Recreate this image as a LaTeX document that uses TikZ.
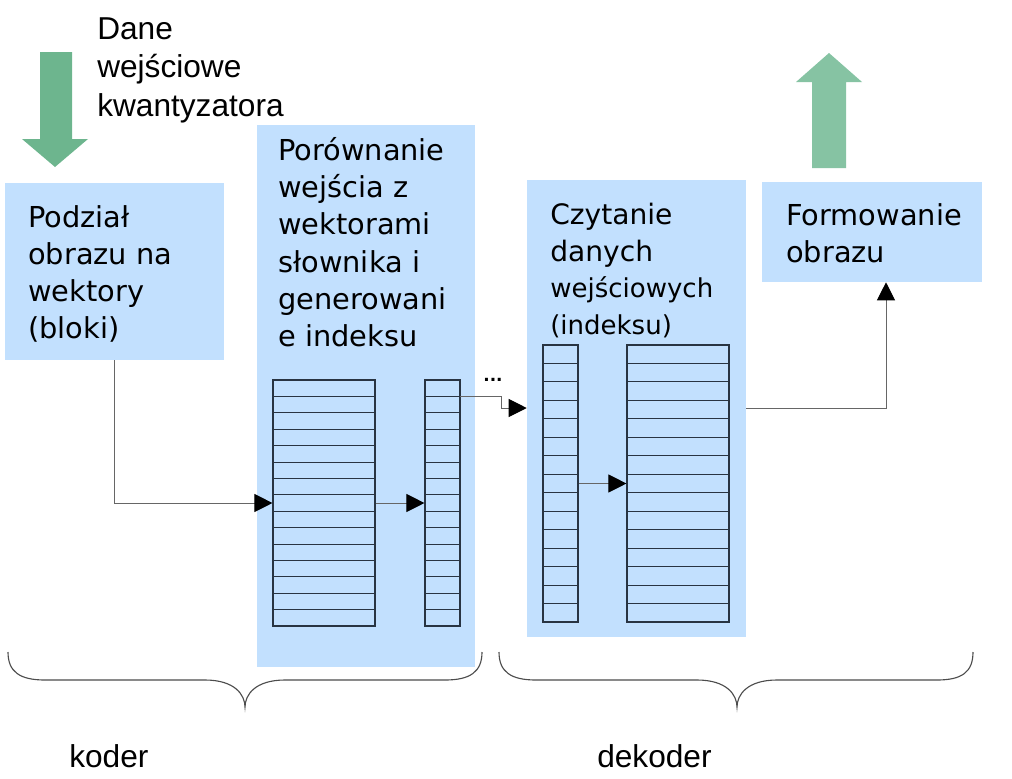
\documentclass[tikz,border=0pt]{standalone}
\usepackage{fontspec}
\setmainfont{DejaVu Sans}
\newfontfamily\arialfont{Liberation Sans}
\usetikzlibrary{arrows.meta,fit}
\definecolor{blok}{RGB}{194,224,254}
\definecolor{zielen}{RGB}{109,181,142}
\definecolor{zielenjasna}{RGB}{134,195,163}
\definecolor{kreska}{RGB}{40,52,66}

\begin{document}
\begin{tikzpicture}[x=0.025cm, y=-0.025cm,
  box/.style={fill=blok, inner sep=0pt},
  tab/.style={draw=kreska, line width=0.8pt, inner sep=0pt},
  conn/.style={draw=black!60, line width=0.7pt, -{Triangle[length=0.45cm,width=0.45cm,color=black]}},
  opis/.style={anchor=north west, inner sep=0pt, align=left, font=\fontsize{20.5}{26.5}\selectfont},
  etykieta/.style={anchor=base west, inner sep=0pt, align=left, font=\arialfont\fontsize{22.5}{27.5}\selectfont},
  klamra/.style={draw=black!70, line width=0.8pt}]
\useasboundingbox (0,0) rectangle (1012,778);

% bloki
\node[box, fit={(5,183) (224,360)}] (podzial) {};
\node[box, fit={(257,125) (475,667)}] (porownanie) {};
\node[box, fit={(527,180) (746,637)}] (czytanie) {};
\node[box, fit={(762,182) (982,282)}] (formowanie) {};

\node[opis] (tpodzial) at (28,205) {Podział\\obrazu na\\wektory\\(bloki)};
\node[opis] (tporownanie) at (278,137) {Porównanie\\wejścia z\\wektorami\\słownika i\\generowani\\e indeksu};
\node[opis, font=\fontsize{20}{26}\selectfont] (tczytanie) at (550,203) {Czytanie\\danych\\\fontsize{18.5}{24.5}\selectfont wejściowych\\\fontsize{18.5}{24.5}\selectfont (indeksu)};
\node[opis] (tformowanie) at (786,203) {Formowanie\\obrazu};

% strzalki we/wy
\fill[zielen] (40,52) -- (72,52) -- (72,139) -- (88,139) -- (55,167) -- (22,139) -- (40,139) -- cycle;
\fill[zielenjasna] (812,168) -- (812,82) -- (796,82) -- (829,53) -- (862,82) -- (846,82) -- (846,168) -- cycle;
\node[etykieta, anchor=north west] (dane) at (97,17) {Dane\\wejściowe\\kwantyzatora};

% tablice
\foreach \nazwa/\xa/\xb/\ya/\yb in {slownik/273/375/380/626, indeksy/425/460/380/626, odczyt/543/578/345/622, wektory/627/729/345/622} {
  \node[tab, fit={(\xa,\ya) (\xb,\yb)}] (\nazwa) {};
  \foreach \i in {1,...,14}
    \draw[kreska, line width=0.7pt] (\xa,{\ya+\i*(\yb-\ya)/15}) -- (\xb,{\ya+\i*(\yb-\ya)/15});
}

% polaczenia
\draw[conn] (podzial.south) |- (slownik.west);
\draw[conn] (slownik.east) -- (indeksy.west);
\coordinate (wyjscie) at (460,396);
\coordinate (zakret) at (501,408);
\draw[conn] (wyjscie) -| (zakret) -- (czytanie.west |- zakret);
\node[font=\bfseries\fontsize{12}{12}\selectfont, inner sep=0pt] (kropki) at (493,380) {...};
\draw[conn] (odczyt.east) -- (wektory.west);
\coordinate (zlacze) at (886,408);
\draw[conn] (czytanie.east |- zlacze) -| (formowanie.south -| zlacze);

% klamry
\draw[klamra] (8,652) .. controls (8,672) and (20,680) .. (45,680) -- (205,680) .. controls (235,680) and (245,695) .. (245,707) .. controls (245,695) and (255,680) .. (285,680) -- (445,680) .. controls (470,680) and (482,672) .. (482,652);
\draw[klamra] (499,652) .. controls (499,672) and (511,680) .. (536,680) -- (697,680) .. controls (727,680) and (737,695) .. (737,707) .. controls (737,695) and (747,680) .. (777,680) -- (937,680) .. controls (962,680) and (973,672) .. (973,652);
\node[etykieta] (koder) at (69,767) {koder};
\node[etykieta] (dekoder) at (597,767) {dekoder};
\end{tikzpicture}
\end{document}
